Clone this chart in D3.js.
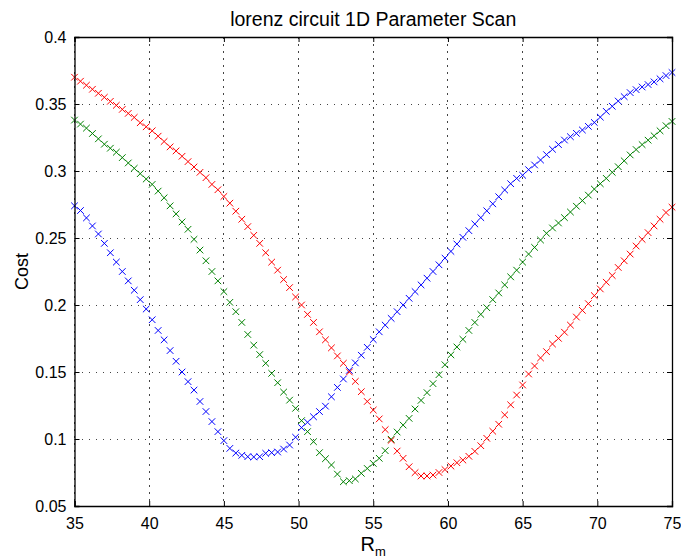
<!DOCTYPE html>
<html>
<head>
<meta charset="utf-8">
<script src="https://cdn.jsdelivr.net/npm/d3@7"></script>
<style>
  body { margin: 0; background: #fff; }
  text { font-family: "Liberation Sans", Arial, Helvetica, sans-serif; }
</style>
</head>
<body>
<div id="wrapper"></div>
<script>
// scanned parameter values
const rmValues = [
  35, 35.4, 35.8, 36.2, 36.6, 37, 37.4, 37.8, 38.2, 38.6,
  39, 39.4, 39.8, 40.2, 40.6, 41, 41.4, 41.8, 42.2, 42.6,
  43, 43.4, 43.8, 44.2, 44.6, 45, 45.4, 45.8, 46.2, 46.6,
  47, 47.4, 47.8, 48.2, 48.6, 49, 49.4, 49.8, 50.2, 50.6,
  51, 51.4, 51.8, 52.2, 52.6, 53, 53.4, 53.8, 54.2, 54.6,
  55, 55.4, 55.8, 56.2, 56.6, 57, 57.4, 57.8, 58.2, 58.6,
  59, 59.4, 59.8, 60.2, 60.6, 61, 61.4, 61.8, 62.2, 62.6,
  63, 63.4, 63.8, 64.2, 64.6, 65, 65.4, 65.8, 66.2, 66.6,
  67, 67.4, 67.8, 68.2, 68.6, 69, 69.4, 69.8, 70.2, 70.6,
  71, 71.4, 71.8, 72.2, 72.6, 73, 73.4, 73.8, 74.2, 74.6,
  75
]

const costRed = [
  0.370, 0.367, 0.364, 0.361, 0.358, 0.355, 0.352, 0.349, 0.346, 0.343,
  0.340, 0.336, 0.333, 0.330, 0.326, 0.322, 0.318, 0.315, 0.311, 0.307,
  0.303, 0.299, 0.295, 0.290, 0.286, 0.281, 0.276, 0.270, 0.264, 0.2585,
  0.252, 0.246, 0.239, 0.232, 0.226, 0.219, 0.213, 0.206, 0.200, 0.193,
  0.187, 0.180, 0.174, 0.168, 0.162, 0.1565, 0.150, 0.143, 0.1353, 0.128,
  0.1216, 0.115, 0.107, 0.099, 0.091, 0.0856, 0.0793, 0.0749, 0.0724, 0.0724,
  0.0731, 0.0750, 0.0772, 0.0798, 0.0823, 0.0843, 0.0871, 0.0908, 0.0950, 0.1005,
  0.1058, 0.1110, 0.1180, 0.1255, 0.1328, 0.1403, 0.1485, 0.1545, 0.1605, 0.1652,
  0.1709, 0.1751, 0.1797, 0.185, 0.191, 0.196, 0.201, 0.207, 0.212, 0.217,
  0.222, 0.228, 0.233, 0.238, 0.244, 0.249, 0.254, 0.259, 0.264, 0.269,
  0.273
]

const costGreen = [
  0.338, 0.335, 0.332, 0.328, 0.324, 0.320, 0.317, 0.314, 0.310, 0.306,
  0.302, 0.298, 0.294, 0.290, 0.285, 0.280, 0.274, 0.268, 0.262, 0.2565,
  0.249, 0.241, 0.233, 0.225, 0.218, 0.210, 0.202, 0.195, 0.187, 0.178,
  0.170, 0.163, 0.1565, 0.149, 0.142, 0.135, 0.129, 0.1229, 0.1137, 0.1055,
  0.098, 0.0898, 0.0853, 0.0806, 0.0738, 0.0681, 0.0689, 0.0702, 0.0744, 0.078,
  0.0818, 0.0856, 0.0913, 0.0998, 0.1052, 0.1104, 0.1154, 0.1224, 0.1288, 0.1346,
  0.1413, 0.1480, 0.1554, 0.1628, 0.1687, 0.1744, 0.181, 0.187, 0.193, 0.198,
  0.204, 0.209, 0.215, 0.221, 0.226, 0.232, 0.238, 0.243, 0.2485, 0.2535,
  0.2575, 0.2612, 0.2652, 0.2694, 0.2737, 0.2779, 0.282, 0.2865, 0.2905, 0.2945,
  0.299, 0.3032, 0.3076, 0.312, 0.316, 0.3197, 0.323, 0.3263, 0.330, 0.3338,
  0.337
]

const costBlue = [
  0.274, 0.2705, 0.265, 0.259, 0.253, 0.246, 0.239, 0.232, 0.225, 0.218,
  0.211, 0.204, 0.197, 0.189, 0.181, 0.174, 0.166, 0.158, 0.150, 0.1428,
  0.1365, 0.128, 0.1205, 0.113, 0.1055, 0.0988, 0.093, 0.0895, 0.0878, 0.0868,
  0.0866, 0.0868, 0.0893, 0.0898, 0.0903, 0.0925, 0.0955, 0.1013, 0.1085, 0.1125,
  0.1166, 0.1205, 0.1245, 0.1315, 0.1385, 0.1448, 0.1512, 0.1568, 0.1625, 0.1684,
  0.1742, 0.180, 0.185, 0.190, 0.195, 0.200, 0.205, 0.210, 0.215, 0.220,
  0.225, 0.230, 0.235, 0.240, 0.2455, 0.2505, 0.2555, 0.2605, 0.2652, 0.2703,
  0.2755, 0.2808, 0.2858, 0.2905, 0.2945, 0.2968, 0.301, 0.3045, 0.3082, 0.3122,
  0.3162, 0.3197, 0.3231, 0.3256, 0.3281, 0.3306, 0.3333, 0.3362, 0.3402, 0.3445,
  0.3483, 0.3522, 0.3555, 0.3585, 0.3607, 0.3627, 0.3645, 0.3665, 0.3688, 0.3712,
  0.3735
]

const xTicks = [35, 40, 45, 50, 55, 60, 65, 70, 75]
const yTicks = [0.05, 0.1, 0.15, 0.2, 0.25, 0.3, 0.35, 0.4]

function drawScan() {

  // 1. Series
  const series = [
    { name: 'blue', color: '#0000ff', values: costBlue },
    { name: 'green', color: '#008000', values: costGreen },
    { name: 'red', color: '#ff0000', values: costRed },
  ]

  // 2. Create chart dimensions
  let dimensions = {
    width: 681,
    height: 559,
    margin: {
      top: 37,
      right: 9,
      bottom: 53,
      left: 74.5,
    },
  }
  dimensions.boundedWidth = dimensions.width - dimensions.margin.left - dimensions.margin.right
  dimensions.boundedHeight = dimensions.height - dimensions.margin.top - dimensions.margin.bottom

  // 3. Draw canvas
  const wrapper = d3.select('#wrapper')
    .append('svg')
      .attr('width', dimensions.width)
      .attr('height', dimensions.height)

  const bounds = wrapper.append('g')
      .attr('transform', `translate(${dimensions.margin.left},${dimensions.margin.top})`)

  // 4. Create scales
  const xScale = d3.scaleLinear()
    .domain([35, 75])
    .range([0, dimensions.boundedWidth])

  const yScale = d3.scaleLinear()
    .domain([0.05, 0.4])
    .range([dimensions.boundedHeight, 0])

  // grid
  const grid = bounds.append('g').attr('class', 'grid')
  grid.selectAll('.gx')
    .data(xTicks)
    .join('line')
      .attr('x1', d => xScale(d))
      .attr('x2', d => xScale(d))
      .attr('y1', 0)
      .attr('y2', dimensions.boundedHeight)
  grid.selectAll('.gy')
    .data(yTicks)
    .join('line')
      .attr('x1', 0)
      .attr('x2', dimensions.boundedWidth)
      .attr('y1', d => yScale(d))
      .attr('y2', d => yScale(d))
  grid.selectAll('line')
      .attr('stroke', '#444')
      .attr('stroke-width', 1)
      .attr('stroke-dasharray', '1.5,5.5')
      .attr('shape-rendering', 'crispEdges')

  // 5. Draw data
  const s = 3.3
  const marker = `M${-s},${-s}L${s},${s}M${-s},${s}L${s},${-s}`

  series.forEach(ser => {
    bounds.append('g')
        .attr('class', ser.name)
      .selectAll('path')
      .data(ser.values)
      .join('path')
        .attr('d', marker)
        .attr('transform', (d, i) => `translate(${xScale(rmValues[i])},${yScale(d)})`)
        .attr('fill', 'none')
        .attr('stroke', ser.color)
        .attr('stroke-width', 1)
  })

  // 6. Draw peripherals
  const tickLen = 5
  const xAxisBottom = d3.axisBottom(xScale)
    .tickValues(xTicks)
    .tickSize(-tickLen)
    .tickPadding(12)
    .tickFormat(d3.format('d'))
  const xAxisTop = d3.axisTop(xScale)
    .tickValues(xTicks)
    .tickSize(-tickLen)
    .tickFormat('')
  const yAxisLeft = d3.axisLeft(yScale)
    .tickValues(yTicks)
    .tickSize(-tickLen)
    .tickPadding(8)
    .tickFormat(d => d3.format('')(+d.toFixed(2)))
  const yAxisRight = d3.axisRight(yScale)
    .tickValues(yTicks)
    .tickSize(-tickLen)
    .tickFormat('')

  const axes = [
    bounds.append('g').attr('transform', `translate(0,${dimensions.boundedHeight})`).call(xAxisBottom),
    bounds.append('g').call(xAxisTop),
    bounds.append('g').call(yAxisLeft),
    bounds.append('g').attr('transform', `translate(${dimensions.boundedWidth},0)`).call(yAxisRight),
  ]
  axes.forEach(ax => {
    ax.select('.domain').attr('stroke', '#000').attr('stroke-width', 1.3)
    ax.selectAll('.tick line').attr('stroke', '#000')
    ax.selectAll('.tick text')
      .attr('fill', '#000')
      .style('font-size', '16px')
  })

  // title
  wrapper.append('text')
      .attr('x', dimensions.margin.left + dimensions.boundedWidth / 2)
      .attr('y', 26)
      .attr('text-anchor', 'middle')
      .style('font-size', '19.5px')
      .text('lorenz circuit 1D Parameter Scan')

  // y label
  wrapper.append('text')
      .attr('transform', `translate(28,${dimensions.margin.top + dimensions.boundedHeight / 2}) rotate(-90)`)
      .attr('text-anchor', 'middle')
      .style('font-size', '18px')
      .text('Cost')

  // x label
  const xLabel = wrapper.append('text')
      .attr('x', dimensions.margin.left + dimensions.boundedWidth / 2)
      .attr('y', 551)
      .attr('text-anchor', 'middle')
      .style('font-size', '20px')
  xLabel.append('tspan').text('R')
  xLabel.append('tspan')
      .attr('dy', 5)
      .style('font-size', '13px')
      .text('m')
}
drawScan()
</script>
</body>
</html>
